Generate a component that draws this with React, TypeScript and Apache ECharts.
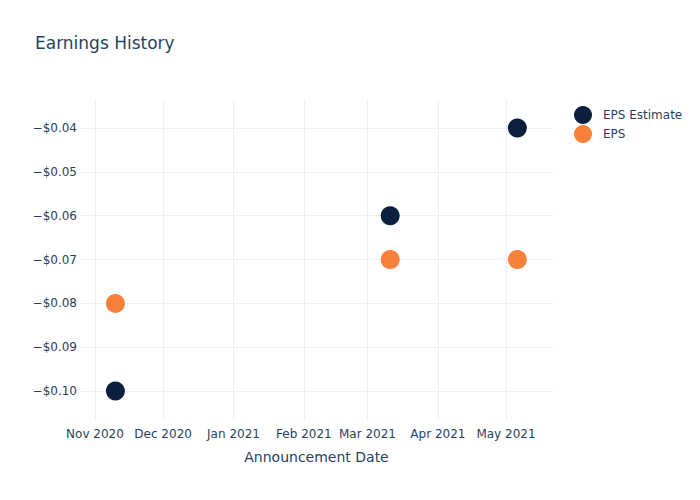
import React, { useEffect, useRef } from "react";
import * as echarts from "echarts";

const dates = ["2020-11-10", "2021-03-11", "2021-05-06"];
const epsEstimate = [-0.1, -0.06, -0.04];
const epsActual = [-0.08, -0.07, -0.07];
const monthTicks = ["2020-11-01", "2020-12-01", "2021-01-01", "2021-02-01", "2021-03-01", "2021-04-01", "2021-05-01"];
const yTicks = [-0.1, -0.09, -0.08, -0.07, -0.06, -0.05, -0.04];
const monthNames = ["Jan", "Feb", "Mar", "Apr", "May", "Jun", "Jul", "Aug", "Sep", "Oct", "Nov", "Dec"];

const ts = (s: string) => {
  const [y, m, d] = s.split("-").map(Number);
  return Date.UTC(y, m - 1, d);
};

const FONT = "DejaVu Sans";
const TXT = "#2a3f5f";
const GRID = "#ebf0f8";

export default function App() {
  const ref = useRef<HTMLDivElement>(null);
  useEffect(() => {
    if (!ref.current) return;
    const chart = echarts.init(ref.current, undefined, { renderer: "svg" });
    const xMin = ts("2020-10-25") + 0.4 * 86400000;
    const xMax = ts("2021-05-21") + 0.7 * 86400000;
    chart.setOption({
      animation: false,
      backgroundColor: "#fff",
      textStyle: { fontFamily: FONT },
      title: {
        text: "Earnings History",
        left: 30,
        top: 29,
        textStyle: { fontFamily: FONT, fontSize: 17, fontWeight: "normal", color: TXT },
      },
      legend: {
        orient: "vertical",
        left: 569,
        top: 101,
        itemWidth: 18,
        itemHeight: 18,
        itemGap: 1,
        icon: "circle",
        itemStyle: { opacity: 1 },
        textStyle: { fontFamily: FONT, fontSize: 12, color: TXT, padding: [0, 0, 0, 6] },
        data: ["EPS Estimate", "EPS"],
      },
      grid: { left: 80, right: 147, top: 100, bottom: 80, containLabel: false },
      xAxis: {
        type: "value",
        min: xMin,
        max: xMax,
        scale: true,
        name: "Announcement Date",
        nameLocation: "middle",
        nameGap: 30,
        nameTextStyle: { fontFamily: FONT, fontSize: 14, color: TXT },
        axisLine: { show: false },
        axisTick: { show: false, customValues: monthTicks.map(ts) },
        splitLine: { show: true, lineStyle: { color: GRID, width: 1 } },
        axisLabel: {
          customValues: monthTicks.map(ts),
          fontFamily: FONT,
          fontSize: 12,
          color: TXT,
          margin: 8,
          hideOverlap: false,
          formatter: (v: number) => {
            const d = new Date(v);
            return monthNames[d.getUTCMonth()] + " " + d.getUTCFullYear();
          },
        },
      },
      yAxis: {
        type: "value",
        min: -0.1066,
        max: -0.0336,
        axisLine: { show: false },
        axisTick: { show: false, customValues: yTicks },
        splitLine: { show: true, lineStyle: { color: GRID, width: 1 } },
        axisLabel: {
          customValues: yTicks,
          fontFamily: FONT,
          fontSize: 12,
          color: TXT,
          margin: 3,
          formatter: (v: number) => "\u2212$" + Math.abs(v).toFixed(2),
        },
      },
      series: [
        {
          name: "EPS Estimate",
          type: "scatter",
          symbolSize: 19,
          itemStyle: { color: "#0b1f3f", opacity: 1 },
          data: dates.map((d, i) => [ts(d), epsEstimate[i]]),
        },
        {
          name: "EPS",
          type: "scatter",
          symbolSize: 19,
          itemStyle: { color: "#f7803a", opacity: 1 },
          data: dates.map((d, i) => [ts(d), epsActual[i]]),
        },
      ],
    });
    return () => chart.dispose();
  }, []);
  return <div ref={ref} style={{ width: 700, height: 500, margin: -8 }} />;
}
